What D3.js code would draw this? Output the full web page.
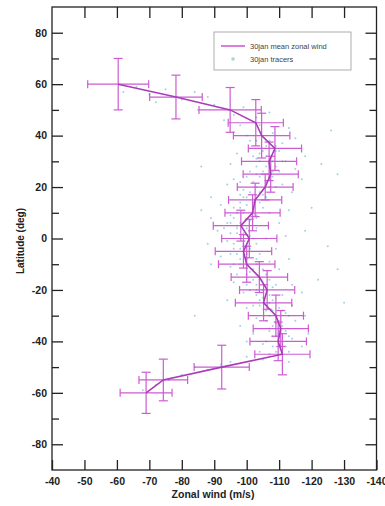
<!DOCTYPE html>
<html>
<head>
<meta charset="utf-8">
<script src="https://cdn.jsdelivr.net/npm/d3@7/dist/d3.min.js"></script>
<style>
  html, body { margin: 0; padding: 0; background: #fff; }
  svg { display: block; }
  text { font-family: "Liberation Sans", Arial, sans-serif; }
</style>
</head>
<body>
<script>
// Mean zonal wind by latitude band, with spread in wind and latitude
const latitudes = [60, 55, 50, 45, 40, 35, 30, 25, 20, 15, 10, 5, 0, -5, -10, -15, -20, -25, -30, -35, -40, -45, -50, -55, -60];
const meanWind  = [-60.4, -78.2, -94.9, -102.8, -104.6, -108.7, -106.9, -107.4, -105.7, -102.6, -101.8, -98.2, -100.8, -99.0, -100.0, -103.9, -106.3, -105.2, -109.0, -110.5, -109.7, -111.0, -92.3, -74.3, -69.0];
const windErr   = [9.4, 8.1, 9.6, 8.5, 8.7, 8.2, 8.5, 8.5, 8.6, 8.2, 8.5, 8.5, 8.5, 8.7, 8.7, 8.7, 8.5, 8.7, 8.5, 8.5, 8.7, 8.5, 8.5, 7.5, 8.0];
const latErr    = [10.0, 8.5, 8.7, 9.0, 8.7, 8.5, 7.5, 7.0, 5.0, 6.5, 7.0, 6.0, 7.5, 6.5, 7.0, 6.0, 7.5, 7.0, 8.0, 7.0, 7.5, 8.0, 8.5, 8.1, 8.0];

// Individual tracer measurements: [zonal wind, latitude]
const tracers = [
  [-62, 57], [-66, 59], [-70, 56], [-75, 58], [-80, 54], [-84, 57], [-88, 55], [-72, 53],
  [-90, 52], [-96, 48], [-99, 51], [-103, 47], [-107, 49], [-85, 50], [-93, 46], [-98, 44],
  [-101, 38], [-104, 44], [-108, 41], [-111, 37], [-106, 36], [-113, 43], [-100, 40], [-115, 39], [-126, 42],
  [-97, 33], [-103, 31], [-106, 28], [-109, 34], [-112, 30], [-115, 27], [-101, 26], [-95, 29], [-123, 29], [-128, 25], [-118, 32], [-108, 26], [-104, 33], [-86, 28],
  [-96, 23], [-99, 19], [-102, 22], [-105, 17], [-108, 24], [-111, 21], [-114, 18], [-89, 16], [-100, 16], [-107, 20], [-117, 23], [-94, 21], [-103, 25], [-98, 17],
  [-92, 13], [-95, 9], [-98, 12], [-101, 7], [-104, 14], [-107, 10], [-110, 6], [-89, 8], [-113, 11], [-97, 5], [-103, 9], [-94, 6], [-120, 12], [-86, 11], [-100, 13],
  [-91, 3], [-94, -1], [-97, 2], [-100, -3], [-103, 4], [-106, 0], [-109, -4], [-88, -2], [-112, 1], [-96, -4], [-101, 1], [-99, -2], [-118, 3], [-125, -3], [-93, 4],
  [-92, -7], [-95, -11], [-98, -8], [-101, -13], [-104, -6], [-107, -9], [-110, -12], [-89, -10], [-97, -14], [-103, -10], [-113, -8], [-100, -6], [-128, -12],
  [-96, -17], [-99, -21], [-102, -16], [-105, -23], [-108, -19], [-111, -22], [-114, -18], [-94, -24], [-103, -20], [-107, -25], [-117, -21], [-100, -18], [-122, -16],
  [-100, -27], [-103, -31], [-106, -28], [-109, -33], [-112, -29], [-115, -32], [-104, -26], [-110, -27], [-118, -30], [-98, -34], [-107, -35], [-114, -26], [-130, -25], [-84, -30],
  [-102, -37], [-105, -41], [-108, -38], [-111, -43], [-114, -39], [-117, -42], [-104, -44], [-110, -36], [-119, -37], [-100, -40], [-107, -45],
  [-95, -48], [-100, -46], [-88, -51], [-80, -53], [-72, -57], [-68, -59], [-76, -55], [-84, -50], [-105, -47], [-113, -48], [-92, -49],
  [-103, 38], [-107, 38], [-109, 36], [-105, 34], [-110, 34], [-106, 32], [-102, 32], [-104, 30], [-108, 30], [-111, 30],
  [-103, 28], [-109, 28], [-105, 26], [-110, 26], [-104, 24], [-100, 24], [-106, 22], [-98, 22], [-103, 20], [-109, 20],
  [-101, 18], [-104, 18], [-99, 16], [-106, 16], [-98, 14], [-102, 14], [-96, 12], [-105, 12], [-99, 10], [-97, 10],
  [-96, 8], [-103, 8], [-98, 6], [-95, 6], [-97, 4], [-100, 4], [-99, 2], [-95, 2], [-98, 0], [-102, 0],
  [-96, -2], [-103, -2], [-98, -4], [-101, -4], [-97, -6], [-95, -6], [-100, -8], [-103, -8], [-98, -10], [-96, -10],
  [-102, -12], [-105, -12], [-100, -14], [-106, -14], [-104, -16], [-107, -16], [-103, -18], [-109, -18], [-105, -20], [-101, -20],
  [-107, -22], [-103, -22], [-104, -24], [-108, -24], [-106, -26], [-102, -26], [-108, -28], [-111, -28], [-107, -30], [-113, -30],
  [-110, -32], [-106, -32], [-111, -34], [-108, -34], [-112, -36], [-107, -36], [-109, -38], [-113, -38], [-110, -40], [-106, -40],
  [-112, -42], [-108, -42], [-109, -44], [-113, -44]
];

const xTicks = [-40, -50, -60, -70, -80, -90, -100, -110, -120, -130, -140];
const yTicks = [-80, -60, -40, -20, 0, 20, 40, 60, 80];
const yMinorTicks = [-70, -50, -30, -10, 10, 30, 50, 70];

const W = 385, H = 506;
const plot = { left: 52, right: 376.5, top: 7, bottom: 470 };
const barColor = "#c646cc";

const svg = d3.select("body").append("svg").attr("width", W).attr("height", H);

const x = d3.scaleLinear().domain([-40, -140]).range([plot.left, plot.right]);
const y = d3.scaleLinear().domain([-90, 90]).range([plot.bottom, plot.top]);

// Tracers
svg.append("g").selectAll("circle").data(tracers).join("circle")
  .attr("cx", d => x(d[0])).attr("cy", d => y(d[1]))
  .attr("r", 1).attr("fill", "#8cc4e0").attr("opacity", 0.8);

// Error bars
const rows = latitudes.map((lat, i) => ({ lat, w: meanWind[i], we: windErr[i], le: latErr[i] }));
const eb = svg.append("g").attr("stroke", barColor).attr("stroke-width", 1.2).attr("fill", "none").attr("opacity", 0.88);
const capH = 4, capV = 4.5;
rows.forEach(r => {
  const cx = x(r.w), cy = y(r.lat);
  const x0 = x(r.w + r.we), x1 = x(r.w - r.we);
  const y0 = y(r.lat + r.le), y1 = y(r.lat - r.le);
  eb.append("line").attr("x1", x0).attr("x2", x1).attr("y1", cy).attr("y2", cy);
  eb.append("line").attr("x1", x0).attr("x2", x0).attr("y1", cy - capH).attr("y2", cy + capH);
  eb.append("line").attr("x1", x1).attr("x2", x1).attr("y1", cy - capH).attr("y2", cy + capH);
  eb.append("line").attr("x1", cx).attr("x2", cx).attr("y1", y0).attr("y2", y1);
  eb.append("line").attr("x1", cx - capV).attr("x2", cx + capV).attr("y1", y0).attr("y2", y0);
  eb.append("line").attr("x1", cx - capV).attr("x2", cx + capV).attr("y1", y1).attr("y2", y1);
});

// Mean zonal wind line
svg.append("path").datum(rows)
  .attr("d", d3.line().x(d => x(d.w)).y(d => y(d.lat)))
  .attr("fill", "none").attr("stroke", "#a83cb8").attr("stroke-width", 1.6);

// Frame
svg.append("rect")
  .attr("x", plot.left).attr("y", plot.top)
  .attr("width", plot.right - plot.left).attr("height", plot.bottom - plot.top)
  .attr("fill", "none").attr("stroke", "#222").attr("stroke-width", 1.3);

// Axes with inward ticks; labels use a plain hyphen for negatives
const fmt = d => String(d);
const axisFont = g => g.selectAll("text").attr("font-size", 10.5).attr("font-weight", "bold").attr("fill", "#222")
  .attr("font-family", "'Liberation Sans', Arial, sans-serif");
const tickStyle = g => { g.select(".domain").remove(); g.selectAll("line").attr("stroke", "#222").attr("stroke-width", 1.3); };

svg.append("g").attr("transform", `translate(0,${plot.bottom})`)
  .call(d3.axisBottom(x).tickValues(xTicks).tickSize(-10).tickPadding(8).tickFormat(fmt))
  .call(tickStyle).call(axisFont);

svg.append("g").attr("transform", `translate(0,${plot.top})`)
  .call(d3.axisTop(x).tickValues(xTicks.slice(1, -1)).tickSize(-11).tickFormat(""))
  .call(tickStyle);

svg.append("g").attr("transform", `translate(${plot.left},0)`)
  .call(d3.axisLeft(y).tickValues(yTicks).tickSize(-11).tickPadding(5).tickFormat(fmt))
  .call(tickStyle).call(axisFont);

svg.append("g").attr("transform", `translate(${plot.left},0)`)
  .call(d3.axisLeft(y).tickValues(yMinorTicks).tickSize(-7).tickFormat(""))
  .call(tickStyle);

svg.append("g").attr("transform", `translate(${plot.right},0)`)
  .call(d3.axisRight(y).tickValues(yTicks).tickSize(-11).tickFormat(""))
  .call(tickStyle);

svg.append("g").attr("transform", `translate(${plot.right},0)`)
  .call(d3.axisRight(y).tickValues(yMinorTicks).tickSize(-7).tickFormat(""))
  .call(tickStyle);

// Axis titles
svg.append("text").attr("x", 213).attr("y", 498).attr("text-anchor", "middle")
  .attr("font-size", 10.5).attr("font-weight", "bold").attr("fill", "#222").text("Zonal wind (m/s)");
svg.append("text").attr("transform", "translate(24,241) rotate(-90)").attr("text-anchor", "middle")
  .attr("font-size", 10).attr("font-weight", "bold").attr("fill", "#222").text("Latitude (deg)");

// Legend
const lg = svg.append("g");
lg.append("rect").attr("x", 214).attr("y", 32).attr("width", 137).attr("height", 38)
  .attr("fill", "#fff").attr("stroke", "#999").attr("stroke-width", 0.8);
lg.append("line").attr("x1", 221).attr("x2", 245).attr("y1", 46).attr("y2", 46)
  .attr("stroke", "#cc55cc").attr("stroke-width", 1.5);
lg.append("text").attr("x", 250).attr("y", 48.5).attr("font-size", 7.5).attr("fill", "#444").text("30jan mean zonal wind");
lg.append("circle").attr("cx", 233).attr("cy", 59).attr("r", 1.8).attr("fill", "#a6d6d6");
lg.append("text").attr("x", 250).attr("y", 61.5).attr("font-size", 7.5).attr("fill", "#444").text("30jan tracers");
</script>
</body>
</html>
